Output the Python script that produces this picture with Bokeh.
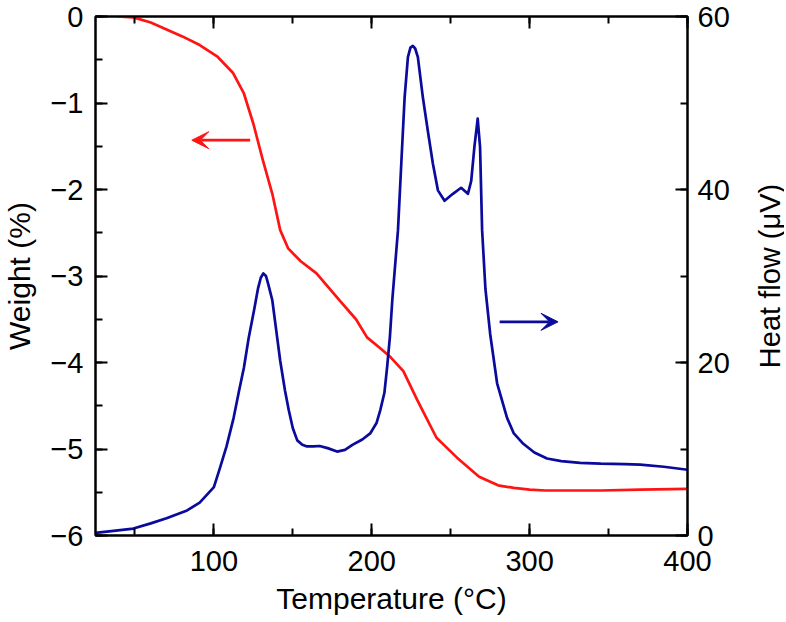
import math
from bokeh.plotting import figure
from bokeh.models import Range1d, LinearAxis, FixedTicker, Arrow, VeeHead, CustomJSTickFormatter, Label
from bokeh.embed import file_html
from bokeh.resources import INLINE

# ---- data ----
temp_weight = [39, 49, 60, 70, 80, 91, 102, 112, 119, 125, 131, 137, 142, 147, 155, 165, 180, 190, 197,
               205, 212, 220, 229, 241, 254, 268, 280, 290, 300, 310, 325, 345, 370, 400]
weight = [0.0, -0.01, -0.07, -0.15, -0.23, -0.33, -0.46, -0.65, -0.89, -1.24, -1.66, -2.05, -2.47, -2.68,
          -2.83, -2.97, -3.29, -3.5, -3.71, -3.83, -3.94, -4.1, -4.44, -4.87, -5.1, -5.32, -5.42, -5.45,
          -5.47, -5.48, -5.48, -5.48, -5.47, -5.46]

temp_heat = [25, 35, 49, 60, 70, 83, 91, 100, 104, 108, 112.5, 116, 119, 122, 125.4, 128, 129.7, 131.3, 133,
             134.5, 137, 140, 142, 145, 147.4, 150, 152.8, 156, 159, 163, 167, 172, 178, 183, 188, 194, 199,
             203, 205.4, 208, 209.7, 211.5, 213, 216.6, 218.7, 220.8, 222.9, 224.5, 226, 227.5, 229.2,
             232.4, 235.5, 238.7, 241.9, 246.1, 251.4, 256.6, 260.9, 263, 265, 267.1, 268.6, 269.9, 272,
             275, 279.4, 285.7, 290, 296, 303, 311, 320, 332, 345, 360, 370, 385, 400]
heat_flow = [0.3, 0.5, 0.8, 1.4, 2.0, 2.9, 3.8, 5.6, 7.9, 10.3, 13.6, 16.8, 19.4, 22.8, 26.0, 28.6, 29.8,
             30.3, 30.0, 29.0, 27.2, 23.0, 20.2, 16.8, 14.5, 12.4, 11.0, 10.5, 10.3, 10.3, 10.35, 10.1, 9.7,
             9.9, 10.5, 11.1, 11.8, 13.0, 14.5, 16.5, 19.4, 23.0, 27.2, 35.3, 43.0, 50.6, 55.3, 56.4, 56.6,
             56.3, 55.3, 50.6, 46.8, 43.0, 39.9, 38.7, 39.5, 40.2, 39.5, 41.0, 44.9, 48.2, 44.9, 35.3, 28.5,
             23.3, 17.6, 13.6, 11.8, 10.6, 9.6, 8.9, 8.6, 8.4, 8.3, 8.25, 8.2, 7.95, 7.6]

x_major = [100, 200, 300, 400]
x_minor = [50, 100, 150, 200, 250, 300, 350, 400]
w_major = [-6, -5, -4, -3, -2, -1, 0]
w_minor = [-6, -5.5, -5, -4.5, -4, -3.5, -3, -2.5, -2, -1.5, -1, -0.5, 0]
h_major = [0, 20, 40, 60]
h_minor = [0, 10, 20, 30, 40, 50, 60]

x_title = "Temperature (°C)"
w_title = "Weight (%)"
h_title = "Heat flow (μV)"

# arrows: (x_start, x_end, y)
arrow_weight = (123, 86, -1.43)
arrow_heat = (281, 318, 24.7)

RED = "#ff1414"
BLUE = "#0a0a9c"
FONT = "Liberation Sans"

p = figure(frame_width=592, frame_height=519, x_range=Range1d(25, 400), y_range=Range1d(-6, 0),
           x_axis_type=None, y_axis_type=None,
           output_backend="svg", toolbar_location=None,
           min_border_left=95, min_border_right=97, min_border_top=16, min_border_bottom=86)
p.extra_y_ranges = {"hf": Range1d(0, 60)}
p.grid.visible = False
p.outline_line_color = "black"
p.outline_line_width = 2
p.background_fill_color = "white"
p.border_fill_color = "white"

p.line(temp_weight, weight, line_color=RED, line_width=2.7, line_join="round")
p.line(temp_heat, heat_flow, line_color=BLUE, line_width=2.7, line_join="round", y_range_name="hf")

p.add_layout(Arrow(end=VeeHead(size=17, fill_color=RED, line_color=RED),
                   x_start=arrow_weight[0], x_end=arrow_weight[1], y_start=arrow_weight[2],
                   y_end=arrow_weight[2], line_color=RED, line_width=2.7))
p.add_layout(Arrow(end=VeeHead(size=17, fill_color=BLUE, line_color=BLUE),
                   x_start=arrow_heat[0], x_end=arrow_heat[1], y_start=arrow_heat[2],
                   y_end=arrow_heat[2], line_color=BLUE, line_width=2.7, y_range_name="hf"))

minus_fmt = CustomJSTickFormatter(code="return tick < 0 ? '\\u2212' + Math.abs(tick) : String(tick);")
blank_fmt = CustomJSTickFormatter(code="return ' ';")


def style(ax):
    ax.axis_line_width = 2
    ax.axis_line_color = "black"
    ax.major_tick_line_width = 2
    ax.minor_tick_line_width = 2
    ax.major_tick_line_color = "black"
    ax.minor_tick_line_color = "black"
    ax.major_tick_in = 12
    ax.major_tick_out = 0
    ax.minor_tick_in = 7
    ax.minor_tick_out = 0
    ax.major_label_text_font = FONT
    ax.major_label_text_font_size = "29px"
    ax.major_label_text_color = "black"
    ax.axis_label_text_font = FONT
    ax.axis_label_text_font_size = "30px"
    ax.axis_label_text_font_style = "normal"
    ax.axis_label_text_color = "black"


bottom_axis = LinearAxis(ticker=FixedTicker(ticks=x_major, minor_ticks=x_minor), axis_label=x_title)
style(bottom_axis)
bottom_axis.major_label_standoff = 15
bottom_axis.axis_label_standoff = 8
p.add_layout(bottom_axis, "below")

top_axis = LinearAxis(ticker=FixedTicker(ticks=x_major, minor_ticks=x_minor), formatter=blank_fmt)
style(top_axis)
top_axis.major_label_text_font_size = "1px"
top_axis.major_label_standoff = 0
p.add_layout(top_axis, "above")

left_axis = LinearAxis(ticker=FixedTicker(ticks=w_major, minor_ticks=w_minor), formatter=minus_fmt,
                       axis_label=w_title)
style(left_axis)
left_axis.major_label_standoff = 12
left_axis.axis_label_standoff = 11
p.add_layout(left_axis, "left")

right_axis = LinearAxis(y_range_name="hf", ticker=FixedTicker(ticks=h_major, minor_ticks=h_minor))
style(right_axis)
right_axis.major_label_standoff = 10
p.add_layout(right_axis, "right")

# right-hand axis title, reading bottom-to-top as in the reference, placed in the right border panel
p.add_layout(Label(x=400, y=30, y_range_name="hf", x_offset=82, text=h_title, angle=math.pi / 2,
                   text_align="center", text_baseline="middle", text_font=FONT,
                   text_font_size="29px", text_color="black"), "right")

open("out.html", "w").write(file_html(p, INLINE))
